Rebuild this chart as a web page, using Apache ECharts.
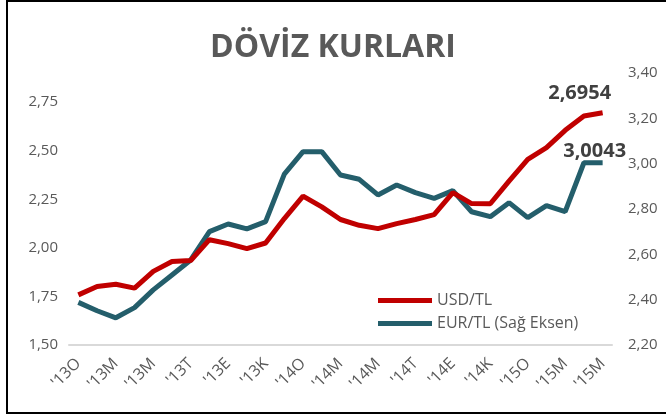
<!DOCTYPE html>
<html>
<head>
<meta charset="utf-8">
<script src="https://cdn.jsdelivr.net/npm/echarts@6/dist/echarts.min.js"></script>
<style>
  html, body { margin: 0; padding: 0; background: #fff; }
  #chart { width: 666px; height: 418px; }
</style>
</head>
<body>
<div id="chart"></div>
<script>
const categories = [
  "'13O", "'13Ş", "'13M", "'13N", "'13M", "'13H", "'13T", "'13A", "'13E", "'13E", "'13K", "'13A",
  "'14O", "'14Ş", "'14M", "'14N", "'14M", "'14H", "'14T", "'14A", "'14E", "'14E", "'14K", "'14A",
  "'15O", "'15Ş", "'15M", "'15N", "'15M"
];

const usdTl = [
  1.758, 1.801, 1.813, 1.793, 1.879, 1.930, 1.935, 2.042, 2.022, 1.996, 2.025, 2.151,
  2.266, 2.211, 2.146, 2.116, 2.099, 2.125, 2.146, 2.171, 2.284, 2.228, 2.227, 2.343,
  2.456, 2.516, 2.605, 2.679, 2.6954
];

const eurTl = [
  2.388, 2.351, 2.320, 2.365, 2.443, 2.509, 2.575, 2.700, 2.734, 2.712, 2.744, 2.954,
  3.053, 3.053, 2.950, 2.931, 2.862, 2.906, 2.872, 2.847, 2.881, 2.788, 2.766, 2.828,
  2.762, 2.815, 2.788, 3.004, 3.0043
];

const leftTicks = [1.5, 1.75, 2.0, 2.25, 2.5, 2.75];
const rightTicks = [2.2, 2.4, 2.6, 2.8, 3.0, 3.2, 3.4];

const labelColor = "#595959";
const usdColor = "#C00000";
const eurColor = "#245E6B";

const comma = (v, d) => v.toFixed(d).replace(".", ",");

// only the last point of each line carries a value label
const withLastLabel = (values, offset) =>
  values.map((v, i) =>
    i === values.length - 1
      ? {
          value: v,
          label: {
            show: true,
            position: "top",
            offset: offset,
            formatter: (p) => comma(p.value, 4),
            fontFamily: "Open Sans",
            fontWeight: "bold",
            fontSize: 20,
            color: "#404040",
          },
        }
      : v
  );

const onTick = (ticks) => (v) =>
  ticks.some((t) => Math.abs(t - v) < 1e-6) ? comma(v, 2) : "";

const chart = echarts.init(document.getElementById("chart"));

chart.setOption({
  animation: false,
  textStyle: { fontFamily: "Open Sans" },
  title: {
    text: "DÖVİZ KURLARI",
    left: "center",
    top: 27,
    textStyle: {
      fontFamily: "Open Sans",
      fontWeight: "bold",
      fontSize: 32,
      color: labelColor,
    },
  },
  graphic: [
    {
      type: "rect",
      shape: { x: 7, y: 1, width: 700, height: 412 },
      style: { fill: "none", stroke: "#000", lineWidth: 2 },
      silent: true,
    },
  ],
  legend: {
    orient: "vertical",
    left: 373,
    top: 287,
    icon: "rect",
    itemWidth: 54,
    itemHeight: 5,
    itemGap: 6,
    textStyle: { fontSize: 16, color: labelColor, lineHeight: 17 },
    data: ["USD/TL", "EUR/TL (Sağ Eksen)"],
  },
  grid: { left: 69, right: 54, top: 73, bottom: 73, containLabel: false },
  xAxis: {
    type: "category",
    data: categories,
    boundaryGap: true,
    axisLine: { lineStyle: { color: "#D9D9D9", width: 2 } },
    axisTick: { interval: 0, length: 5, lineStyle: { color: "#D9D9D9", width: 2 } },
    axisLabel: {
      interval: 1,
      rotate: 45,
      margin: 16,
      fontSize: 16,
      color: labelColor,
    },
    splitLine: { show: false },
  },
  yAxis: [
    {
      type: "value",
      min: 1.5,
      max: 2.9,
      interval: 0.25,
      axisLine: { show: false },
      axisTick: { show: false },
      splitLine: { show: false },
      axisLabel: {
        fontSize: 15,
        color: labelColor,
        margin: 11,
        showMaxLabel: false,
        formatter: onTick(leftTicks),
      },
    },
    {
      type: "value",
      min: 2.2,
      max: 3.4,
      interval: 0.2,
      position: "right",
      axisLine: { show: false },
      axisTick: { show: false },
      splitLine: { show: false },
      axisLabel: {
        fontSize: 15,
        color: labelColor,
        margin: 16,
        formatter: onTick(rightTicks),
      },
    },
  ],
  series: [
    {
      name: "USD/TL",
      type: "line",
      yAxisIndex: 0,
      data: withLastLabel(usdTl, [-23, -4]),
      symbol: "circle",
      symbolSize: 0,
      showSymbol: true,
      showAllSymbol: true,
      color: usdColor,
      lineStyle: { color: usdColor, width: 5 },
      z: 3,
    },
    {
      name: "EUR/TL (Sağ Eksen)",
      type: "line",
      yAxisIndex: 1,
      data: withLastLabel(eurTl, [-8, 4]),
      symbol: "circle",
      symbolSize: 0,
      showSymbol: true,
      showAllSymbol: true,
      color: eurColor,
      lineStyle: { color: eurColor, width: 5 },
      z: 2,
    },
  ],
});
</script>
</body>
</html>
